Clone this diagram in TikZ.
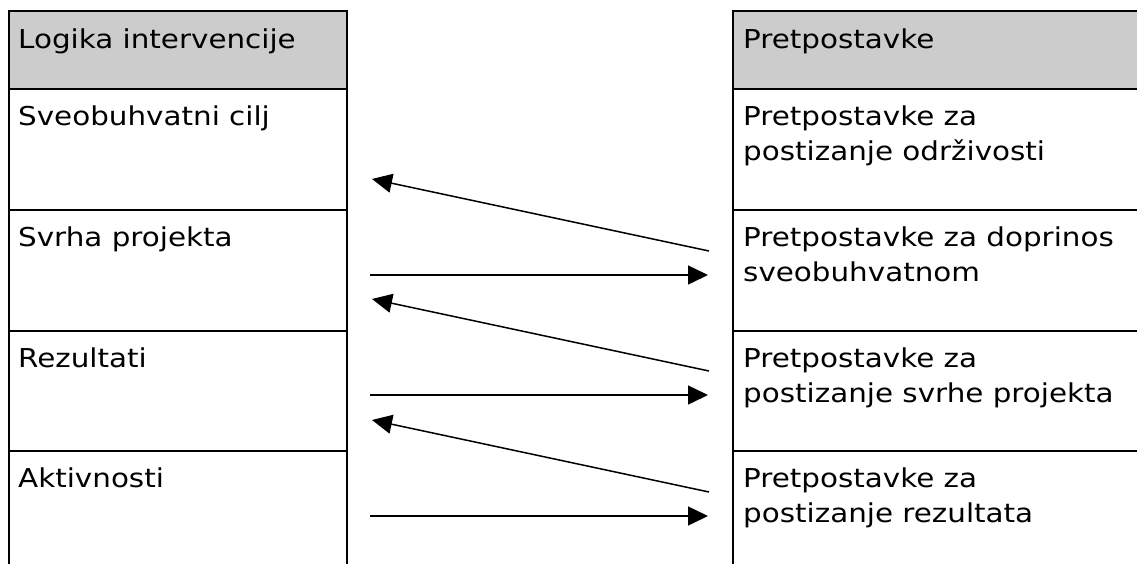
\documentclass[tikz,border=0pt]{standalone}
\usepackage{fontspec}
\setmainfont{DejaVu Sans}[FakeStretch=1.13]
\usetikzlibrary{arrows.meta}
\definecolor{hdrgray}{RGB}{204,204,204}
\begin{document}
\begin{tikzpicture}[x=1pt,y=-1pt,
  grid/.style={draw=black, line width=2.2pt},
  txt/.style={anchor=base west, inner sep=0pt, align=left,
    font=\fontsize{26}{35}\selectfont},
  flow/.style={draw=black, line width=1.5pt, -{Triangle[length=20pt,width=19pt]}}]
\clip (0,0) rectangle (1137,563);
\fill[white] (0,0) rectangle (1137,563);
% headers
\fill[hdrgray] (9,11) rectangle (347,89);
\fill[hdrgray] (733,11) rectangle (1150,89);
% left table
\draw[grid] (9,580) -- (9,11) -- (347,11) -- (347,580);
\foreach \y in {89,210,331,451} \draw[grid] (9,\y) -- (347,\y);
% right table
\draw[grid] (733,580) -- (733,11) -- (1150,11);
\foreach \y in {89,210,331,451} \draw[grid] (733,\y) -- (1150,\y);
% texts (base anchor = baseline of the last line)
\node[txt] (lh) at (18,48) {Logika intervencije};
\node[txt] (l1) at (18,125) {Sveobuhvatni cilj};
\node[txt] (l2) at (18,246) {Svrha projekta};
\node[txt] (l3) at (18,367) {Rezultati};
\node[txt] (l4) at (18,487) {Aktivnosti};
\node[txt] (rh) at (743,48) {Pretpostavke};
\node[txt] (r1) at (743,160) {Pretpostavke za\\postizanje održivosti};
\node[txt] (r2) at (743,281) {Pretpostavke za doprinos\\sveobuhvatnom};
\node[txt] (r3) at (743,402) {Pretpostavke za\\postizanje svrhe projekta};
\node[txt] (r4) at (743,522) {Pretpostavke za\\postizanje rezultata};
% arrow ends
\coordinate (s1) at (709,251); \coordinate (e1) at (372,179);
\coordinate (s2) at (370,275); \coordinate (e2) at (708,275);
\coordinate (s3) at (709,371); \coordinate (e3) at (372,299);
\coordinate (s4) at (370,395); \coordinate (e4) at (708,395);
\coordinate (s5) at (709,492); \coordinate (e5) at (372,420);
\coordinate (s6) at (370,516); \coordinate (e6) at (708,516);
\foreach \i in {1,...,6} \draw[flow] (s\i) -- (e\i);
\end{tikzpicture}
\end{document}
